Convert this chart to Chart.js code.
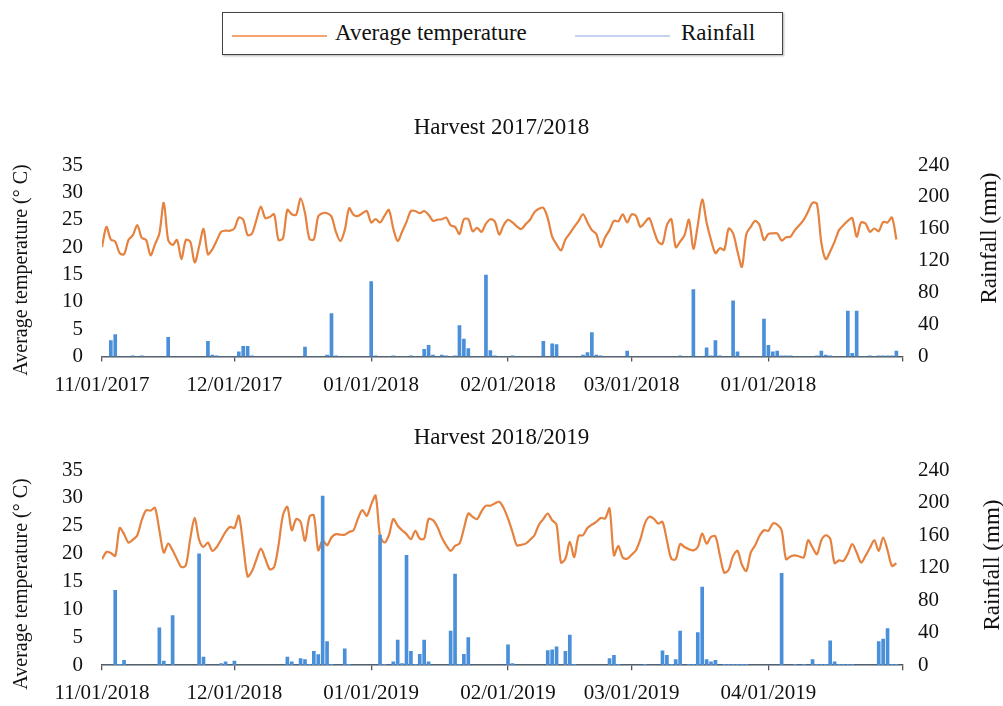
<!DOCTYPE html>
<html>
<head>
<meta charset="utf-8">
<script src="https://cdn.jsdelivr.net/npm/chart.js@4.4.0/dist/chart.umd.min.js"></script>
<style>
  body { margin: 0; background: #fff; width: 1003px; height: 706px; overflow: hidden; position: relative; font-family: 'Liberation Serif', serif; }
  #legend { position: absolute; left: 222px; top: 12px; width: 559px; height: 41px; border: 1.5px solid #444; box-shadow: 1px 1px 2px rgba(0,0,0,0.3); }
  .swatch { position: absolute; top: 22px; height: 2px; }
  .lbl { position: absolute; top: 6px; font-size: 23px; line-height: 27px; color: #111; }
  canvas { position: absolute; left: 0; }
</style>
</head>
<body>
<div id="legend">
  <div class="swatch" style="left:9px;width:95px;background:#f3a36f"></div>
  <div class="lbl" id="lblTemp" style="left:112px"></div>
  <div class="swatch" style="left:352px;width:95px;background:#c3d3ef"></div>
  <div class="lbl" id="lblRain" style="left:458px"></div>
</div>
<canvas id="c1" width="1003" height="315" style="top:100px"></canvas>
<canvas id="c2" width="1003" height="313" style="top:404px"></canvas>
<script>
// series names and axis titles
const tempLabel = 'Average temperature';
const rainLabel = 'Rainfall';
const tempAxisTitle = 'Average temperature (° C)';
const rainAxisTitle = 'Rainfall (mm)';
const harvestTitles = ['Harvest 2017/2018', 'Harvest 2018/2019'];

// day index of each month start (x axis runs day by day, Nov 1 -> Apr 30)
const monthDays = [0, 30, 61, 92, 120, 151, 181.5];
const ticks2017 = ['11/01/2017', '12/01/2017', '01/01/2018', '02/01/2018', '03/01/2018', '01/01/2018', ''];
const ticks2018 = ['11/01/2018', '12/01/2018', '01/01/2019', '02/01/2019', '03/01/2019', '04/01/2019', ''];

// daily average temperature (°C), harvest 2017/2018
const temp2017 = [
  20.0, 23.7, 21.4, 21.0, 18.9, 18.7, 21.3, 22.2, 24.0, 21.7,
  21.3, 18.5, 20.5, 22.5, 28.1, 21.3, 20.4, 21.3, 17.8, 21.3,
  21.0, 17.2, 20.1, 23.3, 18.7, 19.6, 21.2, 22.8, 23.0, 23.0,
  23.4, 25.4, 25.0, 22.2, 22.5, 25.0, 27.4, 25.3, 25.5, 26.0,
  21.3, 21.6, 26.8, 26.0, 25.9, 28.9, 26.2, 21.5, 21.4, 25.6,
  26.2, 26.2, 25.6, 22.8, 21.1, 23.1, 27.1, 25.9, 25.7, 26.2,
  26.6, 24.5, 25.1, 24.5, 25.7, 26.8, 23.4, 21.1, 22.8, 24.6,
  26.6, 26.6, 26.2, 26.6, 25.9, 24.8, 25.0, 25.1, 25.4, 24.0,
  23.7, 22.4, 25.1, 25.1, 22.9, 23.5, 22.8, 24.3, 25.1, 24.7,
  22.3, 24.0, 25.0, 24.5, 23.8, 23.3, 24.2, 25.0, 26.4, 27.0,
  27.2, 25.3, 21.9, 20.5, 19.4, 21.4, 22.5, 23.7, 24.8, 26.0,
  24.5, 23.1, 22.4, 20.0, 21.8, 23.1, 24.8, 24.7, 26.0, 24.5,
  26.0, 25.7, 23.7, 24.5, 25.3, 23.1, 21.0, 20.6, 24.0, 25.1,
  20.0, 21.0, 22.2, 25.0, 19.7, 24.0, 28.7, 24.5, 21.3, 18.9,
  19.8, 19.5, 23.4, 22.5, 19.2, 16.4, 22.4, 23.7, 24.8, 24.0,
  21.3, 22.4, 22.5, 22.5, 21.2, 21.8, 21.9, 23.1, 24.0, 25.0,
  26.5, 28.1, 27.9, 20.8, 17.8, 19.2, 21.0, 23.1, 24.0, 24.8,
  25.3, 21.9, 24.5, 24.3, 22.8, 23.4, 22.9, 24.6, 24.5, 25.4,
  21.4
];

// daily rainfall (mm), harvest 2017/2018
const rain2017 = [
  0, 0, 20, 27.5, 0, 0, 0, 1, 0, 1,
  0, 0, 0, 0, 0, 24, 0, 0, 0, 0,
  0, 0, 0, 0, 19, 2, 1, 0, 0, 0,
  0, 6, 13, 13, 1, 0, 0, 0, 0, 0,
  0, 0, 0, 0, 0, 0, 12, 0, 0, 0,
  0, 2, 54, 1, 0, 0, 0, 0, 0, 0,
  0, 94, 1, 0, 0, 0, 1, 0, 0, 0,
  1, 0, 0, 9, 14, 2, 0, 2, 1, 0,
  1, 39, 22, 10, 0, 0, 0, 102, 7.5, 1,
  0, 0, 0, 1, 0, 0, 0, 0, 0, 0,
  19, 0, 16, 15, 0, 0, 0, 0, 0, 2,
  5, 30, 2, 1, 0, 0, 0, 0, 0, 7,
  0, 0, 0, 0, 0, 0, 0, 0, 0, 0,
  0, 1, 0, 0, 84, 0, 0, 11, 1, 20,
  1, 0, 0, 70, 6, 0, 0, 0, 0, 0,
  47, 14, 6, 7, 1, 1, 1, 0, 0, 0,
  0, 0, 1, 7, 2, 1, 0, 0, 0, 57,
  4, 57, 0, 0, 1, 0, 1, 1, 1, 1,
  7
];

// daily average temperature (°C), harvest 2018/2019
const temp2018 = [
  19.0, 20.3, 20.1, 19.6, 24.6, 23.5, 22.0, 22.5, 23.3, 26.0,
  27.8, 27.7, 28.2, 24.2, 20.2, 21.8, 20.6, 19.0, 17.6, 17.9,
  22.7, 26.4, 22.5, 21.2, 22.0, 20.5, 21.2, 22.5, 23.9, 24.8,
  24.6, 26.8, 21.5, 15.9, 16.9, 19.0, 20.9, 19.1, 17.2, 17.6,
  21.5, 26.9, 28.4, 24.2, 26.2, 25.7, 22.3, 26.6, 26.9, 20.6,
  22.4, 21.5, 22.9, 23.5, 23.4, 23.4, 23.9, 24.2, 26.3, 27.8,
  26.8, 28.8, 30.4, 23.2, 22.0, 23.3, 26.2, 25.0, 24.2, 23.5,
  22.6, 24.1, 22.7, 22.7, 26.2, 26.0, 24.8, 22.9, 21.5, 20.5,
  21.4, 21.8, 24.5, 27.2, 26.6, 26.2, 27.6, 28.6, 28.6, 29.0,
  29.3, 28.2, 26.3, 23.9, 21.5, 21.6, 21.8, 22.5, 23.3, 25.2,
  26.2, 27.2, 26.0, 25.2, 18.4, 19.1, 22.1, 19.4, 23.2, 23.3,
  24.6, 25.2, 25.7, 26.4, 26.3, 28.1, 19.7, 21.4, 19.3, 19.1,
  19.8, 20.6, 22.6, 25.4, 26.6, 26.3, 25.4, 25.7, 22.4, 19.1,
  19.0, 21.7, 21.2, 20.8, 20.6, 21.2, 23.6, 21.8, 23.0, 23.1,
  19.7, 16.6, 17.1, 19.6, 20.5, 18.0, 16.9, 20.2, 21.5, 23.2,
  24.2, 24.1, 25.4, 25.2, 24.2, 19.0, 19.5, 19.7, 19.5, 19.3,
  22.4, 21.1, 19.9, 22.4, 23.3, 22.7, 18.3, 18.8, 18.7, 20.0,
  21.7, 20.2, 18.4, 19.6, 21.0, 22.4, 20.5, 22.9, 20.6, 17.8,
  18.3
];

// daily rainfall (mm), harvest 2018/2019
const rain2018 = [
  0, 0, 0, 92, 1, 6, 0, 0, 0, 0,
  0, 0, 0, 46, 5, 0, 61, 0, 0, 0,
  0, 0, 137, 10, 0, 0, 0, 2, 4, 0,
  5, 0, 0, 0, 0, 0, 0, 0, 0, 0,
  0, 0, 10, 4, 0, 8, 7, 1, 17, 13,
  208, 29, 1, 0, 0, 20, 1, 0, 0, 0,
  0, 0, 0, 160, 1, 0, 4, 31, 2, 135,
  17, 1, 13.5, 31, 4, 0, 0, 0, 0, 42,
  112, 1, 13.5, 34, 0, 0, 0, 0, 0, 0,
  0, 0, 25, 2, 0, 0, 0, 0, 0, 0,
  0, 18, 19, 22.5, 0, 17, 37, 1, 0, 0,
  0, 0, 0, 0, 0, 8, 12, 1, 0, 0,
  0, 0, 0, 1, 0, 0, 0, 17.6, 12, 1,
  7, 42, 0, 1, 1, 40, 96, 7, 4, 6,
  0, 1, 1, 1, 1, 1, 1, 0, 0, 0,
  0, 0, 0, 0, 113, 0, 0, 1, 0, 1,
  0, 7, 1, 1, 1, 30, 4, 1, 1, 1,
  1, 0, 0, 0, 0, 0, 29, 32, 45, 1,
  1
];

document.getElementById('lblTemp').textContent = tempLabel;
document.getElementById('lblRain').textContent = rainLabel;

const serif = 'Liberation Serif';
const ink = '#111';

// rotated axis titles (both read bottom to top, like the original)
const sideTitles = {
  id: 'sideTitles',
  afterDraw(chart, args, opts) {
    const ctx = chart.ctx;
    opts.items.forEach(t => {
      ctx.save();
      ctx.fillStyle = ink;
      ctx.textAlign = 'center';
      ctx.textBaseline = 'middle';
      ctx.font = t.size + 'px "' + serif + '"';
      ctx.translate(t.x, t.y);
      ctx.rotate(-Math.PI / 2);
      ctx.fillText(t.text, 0, 0);
      ctx.restore();
    });
  }
};

function makeChart(id, title, temps, rain, tickText, layout) {
  return new Chart(document.getElementById(id), {
    type: 'bar',
    data: {
      datasets: [
        {
          type: 'bar',
          label: rainLabel,
          data: rain.map((v, i) => ({ x: i, y: v })),
          yAxisID: 'yRain',
          backgroundColor: '#4a8fd9',
          barThickness: 3,
          order: 0
        },
        {
          type: 'line',
          label: tempLabel,
          data: temps.map((v, i) => ({ x: i, y: v })),
          yAxisID: 'yTemp',
          borderColor: '#e5823f',
          borderWidth: 2.2,
          pointRadius: 0,
          tension: 0.3,
          order: 1
        }
      ]
    },
    options: {
      responsive: false,
      animation: false,
      layout: { padding: { left: 0, right: 0, top: 0, bottom: layout.bottom } },
      plugins: {
        legend: { display: false },
        tooltip: { enabled: false },
        title: {
          display: true,
          text: title,
          color: ink,
          font: { family: serif, size: 23, weight: 'normal' },
          padding: { top: layout.titleTop, bottom: layout.titleBottom }
        },
        sideTitles: { items: layout.sideTitles }
      },
      scales: {
        x: {
          type: 'linear',
          min: 0,
          max: 181.5,
          offset: false,
          afterBuildTicks: s => { s.ticks = monthDays.map(v => ({ value: v })); },
          ticks: {
            autoSkip: false,
            maxRotation: 0,
            padding: layout.xPad,
            color: ink,
            font: { family: serif, size: 21 },
            callback: (v, i) => tickText[i]
          },
          grid: { display: true, offset: false, drawOnChartArea: false, drawTicks: true, tickLength: 5, color: '#555', lineWidth: 1.3 },
          border: { display: true, color: '#555', width: 1.5 }
        },
        yTemp: {
          position: 'left',
          min: 0,
          max: 35,
          afterFit: s => { s.width = 102; },
          ticks: { stepSize: 5, autoSkip: false, padding: 19, color: ink, font: { family: serif, size: 21 } },
          grid: { display: false, drawTicks: false },
          border: { display: false }
        },
        yRain: {
          position: 'right',
          min: 0,
          max: 240,
          afterFit: s => { s.width = 100; },
          ticks: { stepSize: 40, autoSkip: false, padding: 15, color: ink, font: { family: serif, size: 21 } },
          grid: { display: false, drawTicks: false },
          border: { display: false }
        }
      }
    },
    plugins: [sideTitles]
  });
}

makeChart('c1', harvestTitles[0], temp2017, rain2017, ticks2017, {
  titleTop: 14.2, titleBottom: 23.2, xPad: 11.4, bottom: 5.4,
  sideTitles: [
    { text: tempAxisTitle, x: 22, y: 170, size: 20 },
    { text: rainAxisTitle, x: 990, y: 138, size: 23 }
  ]
});

makeChart('c2', harvestTitles[1], temp2018, rain2018, ticks2018, {
  titleTop: 20.2, titleBottom: 18.2, xPad: 10.8, bottom: 0,
  sideTitles: [
    { text: tempAxisTitle, x: 22, y: 180, size: 20 },
    { text: rainAxisTitle, x: 993, y: 161, size: 23 }
  ]
});
</script>
</body>
</html>
